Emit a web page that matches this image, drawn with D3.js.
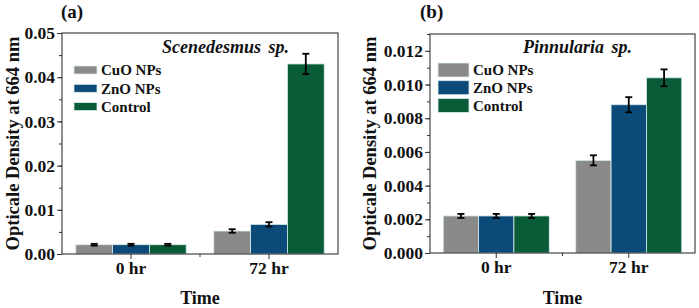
<!DOCTYPE html>
<html>
<head>
<meta charset="utf-8">
<script src="https://cdn.jsdelivr.net/npm/d3@7"></script>
<style>
  body { margin: 0; background: #fff; }
  text { font-family: "Liberation Serif", "Times New Roman", serif; font-weight: bold; fill: #111; }
</style>
</head>
<body>
<div class="chart"></div>
<script>
const width = 699
const height = 308

const categories = ["0 hr", "72 hr"]
const seriesNames = ["CuO NPs", "ZnO NPs", "Control"]
const colors = ["#8a8a8a", "#0c4a79", "#095c37"]

// Scenedesmus sp. (panel a)
const scenCuO = [0.0021, 0.0052]
const scenZnO = [0.0021, 0.0067]
const scenControl = [0.0021, 0.0430]
const scenCuOErr = [0.0002, 0.0004]
const scenZnOErr = [0.0002, 0.0005]
const scenControlErr = [0.0002, 0.0023]
const scenTicks = [0, 0.01, 0.02, 0.03, 0.04, 0.05]

// Pinnularia sp. (panel b)
const pinnCuO = [0.0022, 0.0055]
const pinnZnO = [0.0022, 0.0088]
const pinnControl = [0.0022, 0.0104]
const pinnCuOErr = [0.00012, 0.0003]
const pinnZnOErr = [0.00012, 0.00045]
const pinnControlErr = [0.00012, 0.0005]
const pinnTicks = [0, 0.002, 0.004, 0.006, 0.008, 0.010, 0.012]

let svg = d3.select(".chart")
    .append("svg")
    .attr("width", width)
    .attr("height", height)

function drawPanel(p) {
    const values = [p.cuo, p.zno, p.control]
    const errs = [p.cuoErr, p.znoErr, p.controlErr]

    let rows = []
    categories.forEach((c, ci) => {
        seriesNames.forEach((s, si) => {
            rows.push({ cat: c, key: s, idx: si, value: values[si][ci], err: errs[si][ci] })
        })
    })

    const x0 = d3.scaleBand()
        .domain(categories)
        .range([p.left, p.right])

    const x1 = d3.scaleBand()
        .domain(seriesNames)
        .range([x0.bandwidth() * 0.1, x0.bandwidth() * 0.9])

    const y = d3.scaleLinear()
        .domain([0, p.ymax])
        .range([p.bottom, p.top])

    const g = svg.append("g")

    // bars
    g.append("g")
        .selectAll("rect")
        .data(rows)
        .join("rect")
        .attr("x", d => x0(d.cat) + x1(d.key))
        .attr("y", d => y(d.value))
        .attr("width", x1.bandwidth())
        .attr("height", d => y(0) - y(d.value))
        .attr("fill", d => colors[d.idx])
        .attr("stroke", "#d8ecec")
        .attr("stroke-width", 0.8)

    // error bars
    const eb = g.append("g")
        .selectAll("g")
        .data(rows)
        .join("g")
        .attr("stroke", "#000")
        .attr("stroke-width", 1.8)
    eb.append("line")
        .attr("x1", d => x0(d.cat) + x1(d.key) + x1.bandwidth() / 2)
        .attr("x2", d => x0(d.cat) + x1(d.key) + x1.bandwidth() / 2)
        .attr("y1", d => y(d.value + d.err))
        .attr("y2", d => y(d.value - d.err))
    eb.selectAll("line.cap")
        .data(d => [d.value + d.err, d.value - d.err].map(v => ({ v, cx: x0(d.cat) + x1(d.key) + x1.bandwidth() / 2 })))
        .join("line")
        .attr("class", "cap")
        .attr("x1", d => d.cx - 3.5)
        .attr("x2", d => d.cx + 3.5)
        .attr("y1", d => y(d.v))
        .attr("y2", d => y(d.v))

    // y axis with minor ticks
    g.append("g")
        .attr("transform", `translate(${p.left},0)`)
        .call(d3.axisLeft(y).tickValues(d3.range(0, p.ymax + 1e-9, p.minor)).tickSize(3).tickFormat(""))
        .call(a => a.select(".domain").remove())
        .selectAll("line").attr("stroke", "#333")
    const yAx = g.append("g")
        .attr("transform", `translate(${p.left},0)`)
        .call(d3.axisLeft(y).tickValues(p.ticks).tickSize(5).tickPadding(2).tickFormat(d3.format(p.fmt)))
    yAx.select(".domain").remove()
    yAx.selectAll("line").attr("stroke", "#333")
    yAx.selectAll("text")
        .attr("font-size", 17.5)
        .attr("font-family", "Liberation Serif")
        .attr("font-weight", "bold")
        .attr("fill", "#111")

    // x axis
    const xAx = g.append("g")
        .attr("transform", `translate(0,${p.bottom})`)
        .call(d3.axisBottom(x0).tickSize(5).tickPadding(3))
    xAx.select(".domain").remove()
    xAx.selectAll("line").attr("stroke", "#333")
    xAx.selectAll("text")
        .attr("font-size", 17.5)
        .attr("font-family", "Liberation Serif")
        .attr("font-weight", "bold")
        .attr("fill", "#111")
    g.append("line")
        .attr("x1", (p.left + p.right) / 2)
        .attr("x2", (p.left + p.right) / 2)
        .attr("y1", p.bottom)
        .attr("y2", p.bottom + 3)
        .attr("stroke", "#333")

    // frame
    g.append("rect")
        .attr("x", p.left)
        .attr("y", p.top)
        .attr("width", p.right - p.left)
        .attr("height", p.bottom - p.top)
        .attr("fill", "none")
        .attr("stroke", "#333")
        .attr("stroke-width", 1.1)

    // axis titles
    g.append("text")
        .text("Time")
        .attr("x", (p.left + p.right) / 2)
        .attr("y", 304)
        .attr("text-anchor", "middle")
        .attr("font-size", 18)
    g.append("text")
        .text("Opticale Density at 664 nm")
        .attr("transform", `translate(${p.ytitleX},${(p.top + p.bottom) / 2}) rotate(-90)`)
        .attr("text-anchor", "middle")
        .attr("font-size", 18.5)

    // panel label + species name
    g.append("text")
        .text(p.label)
        .attr("x", p.labelX)
        .attr("y", 18)
        .attr("font-size", 19)
    g.append("text")
        .text(p.species)
        .attr("x", p.speciesX)
        .attr("y", 53)
        .attr("font-size", 18)
        .attr("font-style", "italic")
        .attr("word-spacing", 3)

    // legend
    const leg = g.append("g")
        .selectAll("g")
        .data(seriesNames)
        .join("g")
        .attr("transform", (d, i) => `translate(${p.legX},${p.legY + i * p.legStep})`)
    leg.append("rect")
        .attr("x", 0)
        .attr("y", -p.swH / 2)
        .attr("width", p.swW)
        .attr("height", p.swH)
        .attr("fill", (d, i) => colors[i])
        .attr("stroke", "#d8ecec")
        .attr("stroke-width", 0.8)
    leg.append("text")
        .text(d => d)
        .attr("x", p.swW + 4)
        .attr("dy", "0.35em")
        .attr("font-size", 15)
}

drawPanel({
    left: 62, right: 338, top: 33, bottom: 254,
    ymax: 0.05, minor: 0.005, ticks: scenTicks, fmt: ".2f",
    cuo: scenCuO, zno: scenZnO, control: scenControl,
    cuoErr: scenCuOErr, znoErr: scenZnOErr, controlErr: scenControlErr,
    ytitleX: 19, label: "(a)", labelX: 61,
    species: "Scenedesmus sp.", speciesX: 162,
    legX: 74, legY: 70, legStep: 18.3, swW: 23, swH: 8
})

drawPanel({
    left: 430, right: 695, top: 34, bottom: 253,
    ymax: 0.013, minor: 0.001, ticks: pinnTicks, fmt: ".3f",
    cuo: pinnCuO, zno: pinnZnO, control: pinnControl,
    cuoErr: pinnCuOErr, znoErr: pinnZnOErr, controlErr: pinnControlErr,
    ytitleX: 376, label: "(b)", labelX: 420,
    species: "Pinnularia sp.", speciesX: 523,
    legX: 438, legY: 70, legStep: 17.7, swW: 31, swH: 14
})
</script>
</body>
</html>
